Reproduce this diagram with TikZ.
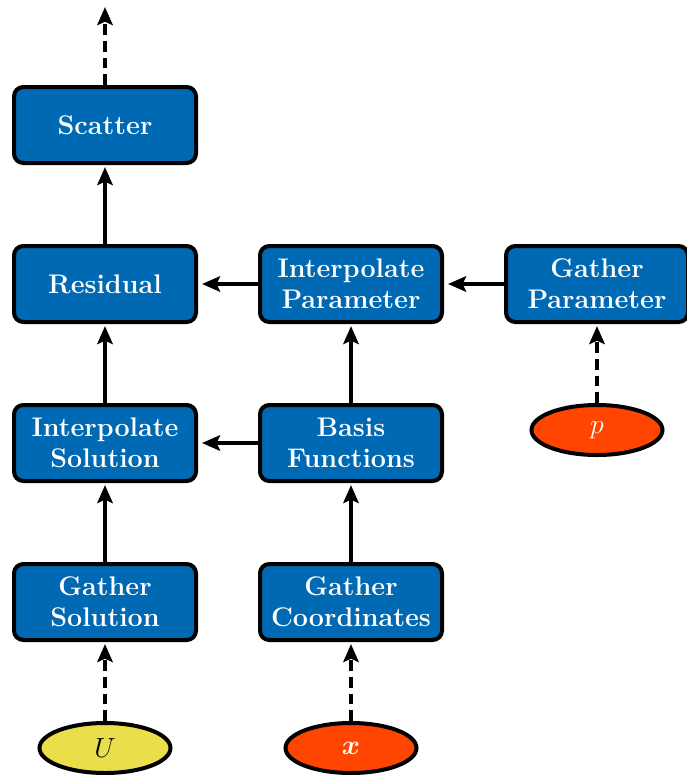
\documentclass[tikz,border=0pt]{standalone}
\usepackage{bm}
\usetikzlibrary{arrows.meta,shapes.geometric}
\definecolor{boxblue}{RGB}{0,105,180}
\definecolor{inred}{RGB}{255,69,0}
\definecolor{inyellow}{RGB}{235,222,75}
\tikzset{
  pbox/.style={draw=black, line width=3pt, fill=boxblue, rounded corners=7pt,
    minimum width=136.5pt, minimum height=57pt, inner sep=0pt,
    text=white, align=center, font=\fontsize{20.2}{23.5}\selectfont\bfseries},
  inell/.style={draw=black, line width=3pt, ellipse, inner sep=0pt,
    minimum width=98.25pt, minimum height=37.5pt, font=\fontsize{20.2}{23.5}\selectfont},
  flow/.style={line width=3pt, -{Stealth[length=13.5pt,width=11.5pt,inset=2.5pt]}, shorten >=1.5pt},
  dflow/.style={flow, dash pattern=on 8pt off 4.5pt}
}
\begin{document}
\begin{tikzpicture}[x=0.75pt,y=-0.75pt]
\useasboundingbox (0,0) rectangle (686,775);
\node[pbox] (scatter) at (105,125) {Scatter};
\node[pbox] (resid) at (105,284) {Residual};
\node[pbox] (isol) at (105,443) {Interpolate\\Solution};
\node[pbox] (gsol) at (105,602) {Gather\\Solution};
\node[pbox] (ipar) at (351,284) {Interpolate\\Parameter};
\node[pbox] (basis) at (351,443) {Basis\\Functions};
\node[pbox] (gcoord) at (351,602) {Gather\\Coordinates};
\node[pbox] (gpar) at (597,284) {Gather\\Parameter};
\node[inell, fill=inred, text=white] (p) at (597,430) {$p$};
\node[inell, fill=inyellow, text=black] (U) at (105,748) {$U$};
\node[inell, fill=inred, text=white] (x) at (351,748) {$\bm{x}$};
\coordinate (out) at (105,7);
\draw[dflow, shorten >=0pt] (scatter) -- (out);
\draw[flow] (resid) -- (scatter);
\draw[flow] (isol) -- (resid);
\draw[flow] (gsol) -- (isol);
\draw[flow, shorten >=3pt] (ipar) -- (resid);
\draw[flow, shorten >=3pt] (gpar) -- (ipar);
\draw[flow] (basis) -- (ipar);
\draw[flow, shorten >=3pt] (basis) -- (isol);
\draw[flow] (gcoord) -- (basis);
\draw[dflow] (U) -- (gsol);
\draw[dflow] (x) -- (gcoord);
\draw[dflow] (p) -- (gpar);
\end{tikzpicture}
\end{document}
